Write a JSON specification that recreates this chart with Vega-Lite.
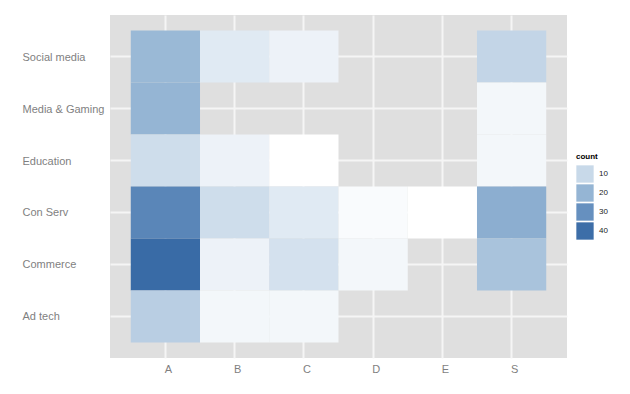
{
  "$schema": "https://vega.github.io/schema/vega-lite/v6.json",
  "width": 457,
  "height": 343,
  "autosize": "none",
  "padding": {"left": 110, "top": 15, "right": 63, "bottom": 36},
  "background": "white",
  "data": {
    "values": [
      {"sector": "Social media", "group": "A", "count": 19},
      {"sector": "Social media", "group": "B", "count": 6},
      {"sector": "Social media", "group": "C", "count": 4},
      {"sector": "Social media", "group": "S", "count": 11},
      {"sector": "Media & Gaming", "group": "A", "count": 20},
      {"sector": "Media & Gaming", "group": "S", "count": 3},
      {"sector": "Education", "group": "A", "count": 9},
      {"sector": "Education", "group": "B", "count": 4},
      {"sector": "Education", "group": "C", "count": 1},
      {"sector": "Education", "group": "S", "count": 3},
      {"sector": "Con Serv", "group": "A", "count": 33},
      {"sector": "Con Serv", "group": "B", "count": 9},
      {"sector": "Con Serv", "group": "C", "count": 6},
      {"sector": "Con Serv", "group": "D", "count": 2},
      {"sector": "Con Serv", "group": "E", "count": 1},
      {"sector": "Con Serv", "group": "S", "count": 22},
      {"sector": "Commerce", "group": "A", "count": 41},
      {"sector": "Commerce", "group": "B", "count": 4},
      {"sector": "Commerce", "group": "C", "count": 8},
      {"sector": "Commerce", "group": "D", "count": 3},
      {"sector": "Commerce", "group": "S", "count": 16},
      {"sector": "Ad tech", "group": "A", "count": 13},
      {"sector": "Ad tech", "group": "B", "count": 3},
      {"sector": "Ad tech", "group": "C", "count": 3}
    ]
  },
  "mark": {"type": "rect", "strokeWidth": 0, "zindex": 1},
  "encoding": {
    "x": {
      "field": "group",
      "type": "nominal",
      "sort": ["A", "B", "C", "D", "E", "S"],
      "scale": {"domain": ["A", "B", "C", "D", "E", "S"], "paddingInner": 0, "paddingOuter": 0.3},
      "axis": {
        "title": null,
        "orient": "bottom",
        "labelAngle": 0,
        "labelPadding": 5,
        "labelOffset": 3,
        "labelBaseline": "top"
      }
    },
    "y": {
      "field": "sector",
      "type": "nominal",
      "sort": ["Social media", "Media & Gaming", "Education", "Con Serv", "Commerce", "Ad tech"],
      "scale": {"domain": ["Social media", "Media & Gaming", "Education", "Con Serv", "Commerce", "Ad tech"], "paddingInner": 0, "paddingOuter": 0.3},
      "axis": {
        "title": null,
        "labelAlign": "left",
        "labelBaseline": "middle",
        "labelPadding": 88,
        "labelOffset": 1,
        "labelLimit": 200
      }
    },
    "color": {
      "field": "count",
      "type": "quantitative",
      "scale": {
        "domain": [1, 10, 20, 30, 40],
        "range": ["#ffffff", "#c8d9e9", "#95b5d4", "#6690bf", "#3d6ea8"],
        "interpolate": "rgb"
      },
      "legend": {
        "type": "symbol",
        "values": [10, 20, 30, 40],
        "title": "count",
        "orient": "none",
        "legendX": 466,
        "legendY": 138,
        "padding": 0,
        "symbolType": "square",
        "symbolSize": 300,
        "symbolStrokeWidth": 0,
        "symbolOpacity": 1,
        "rowPadding": 1,
        "labelOffset": 5,
        "labelFontSize": 8,
        "labelColor": "#222222",
        "labelFont": "Liberation Sans",
        "titleFont": "Liberation Sans",
        "titleFontSize": 8,
        "titleFontWeight": "bold",
        "titleColor": "#000000",
        "titlePadding": 4
      }
    }
  },
  "config": {
    "view": {"fill": "#dfdfdf", "stroke": null},
    "axis": {
      "domain": false,
      "ticks": false,
      "tickSize": 0,
      "grid": true,
      "gridColor": "#f5f5f5",
      "gridWidth": 2,
      "gridOpacity": 1,
      "tickBand": "center",
      "bandPosition": 0.5,
      "zindex": 0,
      "labelFont": "Liberation Sans",
      "labelFontSize": 11,
      "labelColor": "#7f7f7f"
    }
  }
}
